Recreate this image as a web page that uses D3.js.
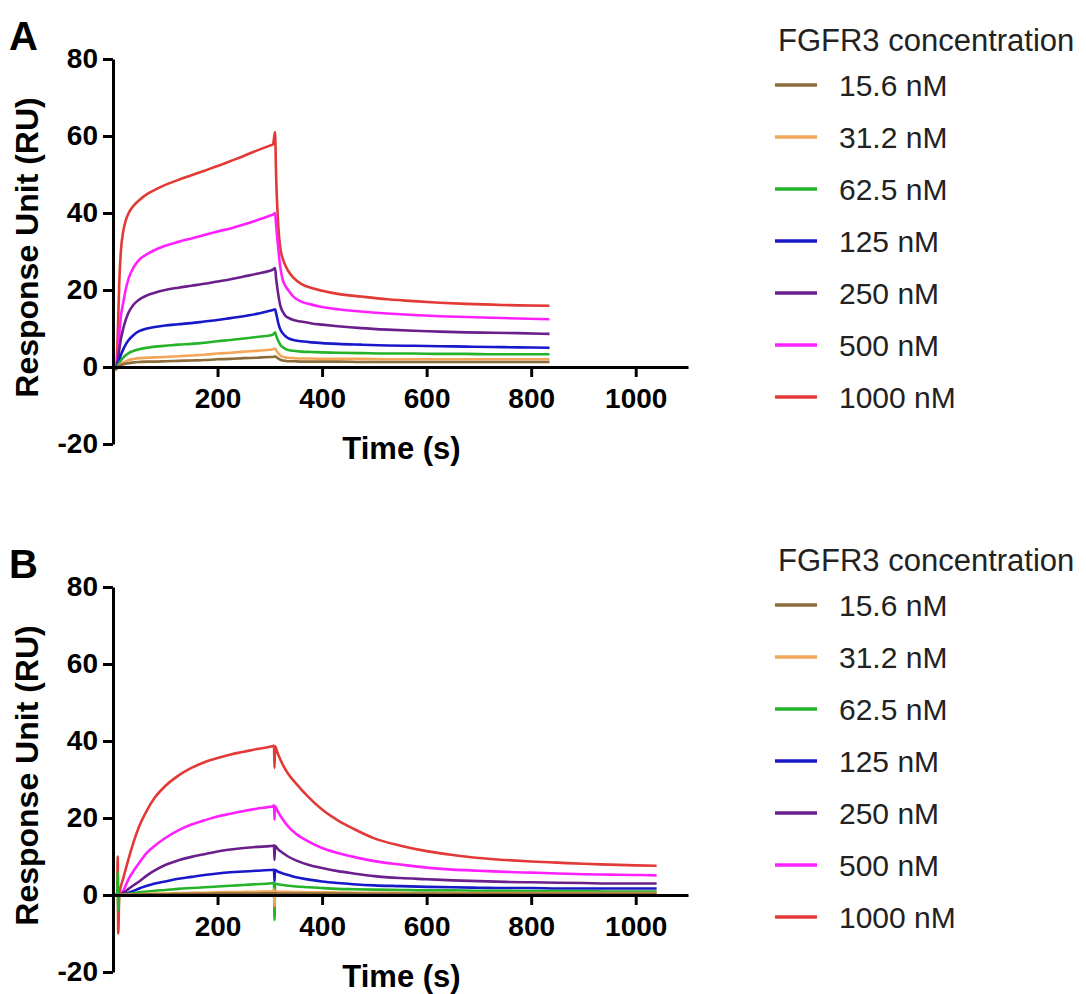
<!DOCTYPE html>
<html>
<head>
<meta charset="utf-8">
<script src="https://cdn.jsdelivr.net/npm/d3@7"></script>
<style>
  html, body { margin: 0; padding: 0; background: #fff; }
  svg { display: block; }
  text { font-family: Arial, "Liberation Sans", sans-serif; }
</style>
</head>
<body>
<svg id="chart" width="1086" height="994"></svg>
<script>
// SPR sensorgrams: FGFR3 binding at increasing concentrations (two surfaces, A and B)

const concentrations = ["15.6 nM", "31.2 nM", "62.5 nM", "125 nM", "250 nM", "500 nM", "1000 nM"];
const seriesColors = ["#8c6b3a", "#f2a65a", "#25b32a", "#1818c8", "#6b1f8c", "#ff20ff", "#e23a36"];
const legendTitle = "FGFR3 concentration";
const panelLabels = ["A", "B"];
const xTicks = [200, 400, 600, 800, 1000];
const yTicks = [-20, 0, 20, 40, 60, 80];
const xTitle = "Time (s)";
const yTitle = "Response Unit (RU)";

// Panel A: time (s)
const timeA = [0, 6, 9, 12, 15, 20, 25, 30, 40, 50,
  65, 80, 100, 125, 150, 175, 200, 225, 250, 275,
  300, 306, 310, 312, 316, 320, 325, 330, 335, 345,
  360, 380, 400, 430, 475, 525, 575, 625, 675, 725,
  775, 835];

// Panel A: response (RU), one array per concentration
const a15_6 = [0, -0.5, 0, 0.3, 0.5, 0.7, 0.9, 1.0, 1.2, 1.3,
  1.4, 1.4, 1.5, 1.6, 1.7, 1.8, 2.0, 2.1, 2.3, 2.4,
  2.6, 2.6, 2.8, 2.6, 2.2, 1.9, 1.7, 1.6, 1.5, 1.5,
  1.4, 1.4, 1.4, 1.4, 1.3, 1.3, 1.3, 1.3, 1.3, 1.3,
  1.3, 1.3];
const a31_2 = [0, -0.8, 0, 0.5, 0.8, 1.2, 1.5, 1.8, 2.1, 2.3,
  2.4, 2.5, 2.6, 2.8, 3.0, 3.2, 3.5, 3.7, 4.0, 4.2,
  4.5, 4.6, 4.8, 4.4, 3.6, 3.0, 2.7, 2.5, 2.4, 2.3,
  2.2, 2.2, 2.1, 2.1, 2.1, 2.0, 2.0, 2.0, 2.0, 2.0,
  2.0, 2.0];
const a62_5 = [0, 0, 0.2, 1.0, 1.7, 2.5, 3.1, 3.6, 4.2, 4.6,
  5.0, 5.3, 5.5, 5.8, 6.0, 6.3, 6.7, 7.0, 7.4, 7.8,
  8.2, 8.4, 9.0, 8.2, 6.8, 5.8, 5.1, 4.7, 4.4, 4.2,
  4.0, 3.9, 3.8, 3.7, 3.6, 3.5, 3.5, 3.4, 3.4, 3.3,
  3.3, 3.3];
const a125 = [0, 0, 0.5, 1.8, 3.1, 4.7, 6.0, 7.0, 8.4, 9.3,
  10.0, 10.4, 10.8, 11.1, 11.4, 11.8, 12.2, 12.7, 13.2, 13.8,
  14.6, 14.8, 15.0, 14.0, 11.5, 9.8, 8.7, 8.0, 7.5, 7.0,
  6.7, 6.4, 6.2, 6.0, 5.8, 5.6, 5.5, 5.4, 5.3, 5.2,
  5.1, 5.0];
const a250 = [0, 0, 1.5, 4.5, 7.2, 10.2, 12.5, 14.2, 16.3, 17.5,
  18.6, 19.3, 20.0, 20.6, 21.1, 21.6, 22.2, 22.8, 23.5, 24.2,
  25.0, 25.3, 25.7, 23.0, 19.0, 16.0, 14.3, 13.3, 12.8, 12.2,
  11.8, 11.3, 11.0, 10.6, 10.1, 9.7, 9.4, 9.2, 9.0, 8.9,
  8.8, 8.6];
const a500 = [0, 0, 3.0, 8.5, 13.0, 17.0, 20.5, 23.0, 26.0, 27.8,
  29.3, 30.4, 31.5, 32.5, 33.4, 34.3, 35.2, 36.0, 37.0, 38.1,
  39.3, 39.6, 40.0, 37.0, 31.0, 26.0, 22.5, 21.0, 20.0, 18.3,
  17.0, 16.2, 15.6, 15.0, 14.4, 13.9, 13.5, 13.2, 13.0, 12.8,
  12.6, 12.4];
const a1000 = [0, 0, 8.0, 22.0, 30.0, 35.5, 38.3, 40.0, 42.0, 43.3,
  44.9, 46.0, 47.3, 48.6, 49.8, 51.0, 52.2, 53.5, 54.8, 56.2,
  57.5, 57.8, 61.0, 50.0, 37.0, 31.0, 28.0, 26.3, 25.0, 23.2,
  21.6, 20.5, 19.8, 19.0, 18.3, 17.6, 17.1, 16.7, 16.4, 16.2,
  16.0, 15.9];

// Panel B: time (s)
const timeB = [0, 8, 9, 10, 12, 20, 30, 40, 50, 65,
  80, 100, 125, 150, 175, 200, 225, 250, 275, 300,
  306, 308, 309, 310, 315, 325, 335, 350, 375, 400,
  430, 460, 500, 550, 600, 650, 700, 750, 800, 850,
  900, 950, 1000, 1040];

// Panel B: response (RU), one array per concentration
const b15_6 = [0, 0, 0, 0, 0, 0, 0.05, 0.1, 0.1, 0.15,
  0.2, 0.2, 0.25, 0.3, 0.3, 0.35, 0.35, 0.4, 0.4, 0.45,
  0.45, 0.45, 0.45, 0.45, 0.4, 0.4, 0.4, 0.4, 0.4, 0.35,
  0.35, 0.35, 0.3, 0.3, 0.3, 0.3, 0.3, 0.3, 0.3, 0.3,
  0.3, 0.3, 0.3, 0.3];
const b31_2 = [0, 0, 0, 0, 0, 0.05, 0.1, 0.15, 0.2, 0.3,
  0.35, 0.4, 0.5, 0.55, 0.6, 0.7, 0.75, 0.8, 0.85, 0.9,
  0.9, 1.5, -3.0, 0.9, 0.85, 0.8, 0.8, 0.75, 0.7, 0.7,
  0.65, 0.6, 0.6, 0.55, 0.5, 0.5, 0.5, 0.5, 0.5, 0.5,
  0.5, 0.5, 0.5, 0.5];
const b62_5 = [0, 0, 6.0, -4.0, 0, 0.1, 0.3, 0.5, 0.7, 0.9,
  1.1, 1.3, 1.6, 1.8, 2.0, 2.2, 2.4, 2.6, 2.8, 3.0,
  3.1, 3.1, -6.5, 3.0, 2.8, 2.6, 2.4, 2.2, 2.0, 1.8,
  1.6, 1.5, 1.4, 1.3, 1.2, 1.2, 1.1, 1.1, 1.0, 1.0,
  1.0, 0.9, 0.9, 0.9];
const b125 = [0, 0, 0, 0, 0, 0.2, 0.6, 1.1, 1.7, 2.4,
  3.0, 3.5, 4.2, 4.7, 5.2, 5.6, 5.9, 6.1, 6.3, 6.5,
  6.5, 6.6, 3.5, 6.5, 6.1, 5.6, 5.2, 4.6, 4.0, 3.5,
  3.1, 2.8, 2.5, 2.3, 2.1, 2.0, 1.9, 1.8, 1.8, 1.7,
  1.7, 1.7, 1.7, 1.7];
const b250 = [0, 0, 0, 0, 0, 0.6, 1.6, 2.6, 3.5, 5.1,
  6.4, 7.8, 9.0, 9.9, 10.6, 11.3, 11.8, 12.2, 12.5, 12.7,
  12.8, 12.9, 9.1, 12.8, 12.0, 10.9, 10.0, 9.0, 7.8, 7.0,
  6.2, 5.6, 4.9, 4.4, 4.1, 3.8, 3.6, 3.4, 3.3, 3.2,
  3.1, 3.0, 3.0, 3.0];
const b500 = [0, 0, 0, 0, 0, 1.2, 4.2, 6.4, 8.3, 11.0,
  12.8, 14.8, 16.8, 18.3, 19.4, 20.4, 21.1, 21.8, 22.4, 22.9,
  23.1, 23.3, 19.6, 23.1, 21.8, 19.6, 17.8, 15.9, 13.8, 12.2,
  10.9, 9.9, 8.8, 7.9, 7.1, 6.6, 6.3, 6.0, 5.8, 5.6,
  5.4, 5.3, 5.2, 5.1];
const b1000 = [0, 0, 10.0, -10.0, 0, 4.5, 9.5, 14.0, 17.8, 22.0,
  25.3, 28.3, 31.0, 33.0, 34.5, 35.6, 36.5, 37.2, 37.9, 38.5,
  38.7, 38.8, 33.0, 38.6, 36.8, 33.8, 31.5, 29.0, 25.3, 22.2,
  19.4, 17.2, 14.7, 12.8, 11.4, 10.4, 9.6, 9.1, 8.7, 8.4,
  8.1, 7.9, 7.7, 7.6];

const panels = [
  { label: panelLabels[0], time: timeA, series: [a15_6, a31_2, a62_5, a125, a250, a500, a1000], top: 59, bottom: 444, legendTop: 40 },
  { label: panelLabels[1], time: timeB, series: [b15_6, b31_2, b62_5, b125, b250, b500, b1000], top: 587, bottom: 972, legendTop: 560 }
];

const svg = d3.select("#chart");
const plotLeft = 113, plotRight = 688;
const x = d3.scaleLinear().domain([0, 1100]).range([plotLeft, plotRight]);
const color = d3.scaleOrdinal().domain(concentrations).range(seriesColors);

panels.forEach((p) => {
  const y = d3.scaleLinear().domain([-20, 80]).range([p.bottom, p.top]);
  const g = svg.append("g");

  // panel letter
  g.append("text")
    .attr("x", 9).attr("y", p.top - 9)
    .attr("font-size", 40).attr("font-weight", "bold")
    .text(p.label);

  // sensorgram traces (highest concentration drawn first)
  const line = d3.line()
    .x(d => x(d[0]))
    .y(d => y(d[1]))
    .curve(d3.curveMonotoneX);

  const traces = p.series.map((vals, i) => ({
    name: concentrations[i],
    points: p.time.map((t, k) => [t, vals[k]])
  })).reverse();

  g.append("g").selectAll("path")
    .data(traces)
    .join("path")
    .attr("fill", "none")
    .attr("stroke", d => color(d.name))
    .attr("stroke-width", 2.6)
    .attr("stroke-linejoin", "round")
    .attr("d", d => line(d.points));

  // y axis
  const yAxis = g.append("g")
    .attr("transform", `translate(${plotLeft},0)`)
    .call(d3.axisLeft(y).tickValues(yTicks).tickFormat(d => String(d))
      .tickSize(10).tickSizeOuter(0).tickPadding(5));

  // x axis along y = 0
  const xAxis = g.append("g")
    .attr("transform", `translate(0,${y(0)})`)
    .call(d3.axisBottom(x).tickValues(xTicks).tickFormat(d => String(d))
      .tickSize(10).tickSizeOuter(0).tickPadding(11));

  [yAxis, xAxis].forEach(ax => {
    ax.select(".domain").attr("stroke", "#000").attr("stroke-width", 3);
    ax.selectAll(".tick line").attr("stroke", "#000").attr("stroke-width", 3);
    ax.selectAll(".tick text")
      .attr("fill", "#000")
      .attr("font-size", 28)
      .attr("font-weight", "bold")
      .attr("font-family", "Arial, 'Liberation Sans', sans-serif");
  });

  // axis titles
  g.append("text")
    .attr("x", (plotLeft + plotRight) / 2 + 1)
    .attr("y", p.bottom + 15)
    .attr("text-anchor", "middle")
    .attr("font-size", 31).attr("font-weight", "bold")
    .text(xTitle);

  g.append("text")
    .attr("transform", `translate(38,${(p.top + p.bottom) / 2 - 4}) rotate(-90)`)
    .attr("text-anchor", "middle")
    .attr("font-size", 32).attr("font-weight", "bold")
    .text(yTitle);

  // legend
  const lg = g.append("g").attr("transform", `translate(778,${p.legendTop})`);
  lg.append("text")
    .attr("x", 0).attr("y", 11)
    .attr("font-size", 31)
    .attr("fill", "#222")
    .text(legendTitle);

  const items = lg.selectAll("g.item")
    .data(concentrations)
    .join("g")
    .attr("class", "item")
    .attr("transform", (d, i) => `translate(0,${45 + i * 52})`);

  items.append("line")
    .attr("x1", -3).attr("x2", 39)
    .attr("y1", 0).attr("y2", 0)
    .attr("stroke", d => color(d))
    .attr("stroke-width", 3.5);

  items.append("text")
    .attr("x", 61).attr("y", 11)
    .attr("font-size", 30)
    .attr("fill", "#222")
    .text(d => d);
});
</script>
</body>
</html>
